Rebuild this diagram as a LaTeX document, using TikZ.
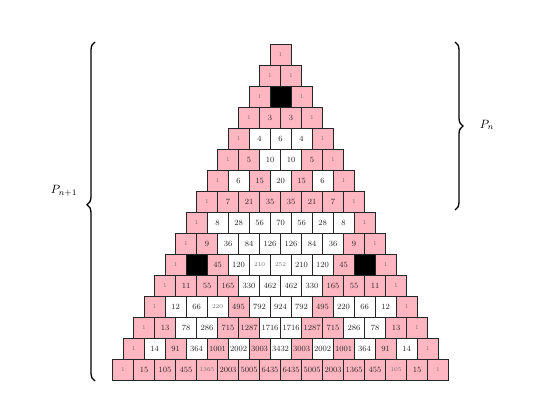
\documentclass[tikz,border=0pt]{standalone}
\usetikzlibrary{decorations.pathreplacing}
\definecolor{cellpink}{RGB}{255,182,193}
\begin{document}
\begin{tikzpicture}[x=1pt,y=1pt,
  cell/.style={draw=black!85,line width=0.7pt,minimum width=21pt,minimum height=21pt,inner sep=0pt,
    font=\fontsize{8}{8}\selectfont,text=black!85},
  cp/.style={fill=cellpink},
  cw/.style={fill=white},
  cb/.style={fill=black},
  cpl/.style={fill=cellpink,font=\fontsize{6}{6}\selectfont,text=black!55},
  cwl/.style={fill=white,font=\fontsize{6}{6}\selectfont,text=black!55},
  bracestyle/.style={decorate,line width=1.3pt},
  lab/.style={inner sep=1pt,scale=1.2}]
\useasboundingbox (0,0) rectangle (536,420);
\foreach \r/\vals in {
  0/{1/cpl},
  1/{1/cpl,1/cpl},
  2/{1/cpl,/cb,1/cpl},
  3/{1/cpl,3/cp,3/cp,1/cpl},
  4/{1/cpl,4/cw,6/cw,4/cw,1/cpl},
  5/{1/cpl,5/cp,10/cw,10/cw,5/cp,1/cpl},
  6/{1/cpl,6/cw,15/cp,20/cw,15/cp,6/cw,1/cpl},
  7/{1/cpl,7/cp,21/cp,35/cp,35/cp,21/cp,7/cp,1/cpl},
  8/{1/cpl,8/cw,28/cw,56/cw,70/cw,56/cw,28/cw,8/cw,1/cpl},
  9/{1/cpl,9/cp,36/cw,84/cw,126/cw,126/cw,84/cw,36/cw,9/cp,1/cpl},
  10/{1/cpl,/cb,45/cp,120/cw,210/cwl,252/cwl,210/cw,120/cw,45/cp,/cb,1/cpl},
  11/{1/cpl,11/cp,55/cp,165/cp,330/cw,462/cw,462/cw,330/cw,165/cp,55/cp,11/cp,1/cpl},
  12/{1/cpl,12/cw,66/cw,220/cwl,495/cp,792/cw,924/cw,792/cw,495/cp,220/cw,66/cw,12/cw,1/cpl},
  13/{1/cpl,13/cp,78/cw,286/cw,715/cp,1287/cp,1716/cw,1716/cw,1287/cp,715/cp,286/cw,78/cw,13/cp,1/cpl},
  14/{1/cpl,14/cw,91/cp,364/cw,1001/cp,2002/cw,3003/cp,3432/cw,3003/cp,2002/cw,1001/cp,364/cw,91/cp,14/cw,1/cpl},
  15/{1/cpl,15/cp,105/cp,455/cp,1365/cpl,2003/cp,5005/cp,6435/cp,6435/cp,5005/cp,2003/cp,1365/cp,455/cp,105/cpl,15/cp,1/cpl}} {
  \foreach \v/\s [count=\k from 0] in \vals {
    \node[cell,\s] (c-\r-\k) at ({280.5+(\k-\r/2)*21},{365.5-21*\r}) {\v};
  }
}
\coordinate (lb) at (95,39);
\coordinate (lt) at (95,378);
\coordinate (rt) at (455,378);
\coordinate (rb) at (455,210);
\draw[bracestyle,decoration={brace,amplitude=8pt,aspect=0.52}] (lb) -- (lt);
\draw[bracestyle,decoration={brace,amplitude=8pt}] (rt) -- (rb);
\node[lab] (pn1) at (64,229) {$P_{n+1}$};
\node[lab] (pn) at (487,295) {$P_n$};
\end{tikzpicture}
\end{document}
